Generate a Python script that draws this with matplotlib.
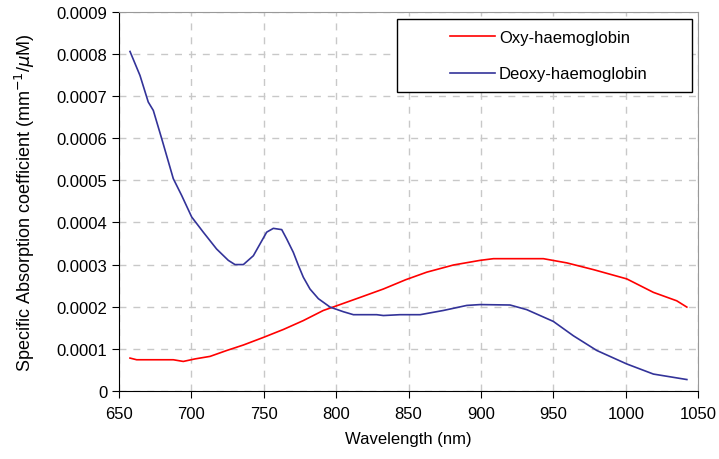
import matplotlib.pyplot as plt
import matplotlib
from matplotlib.patches import Rectangle

matplotlib.rcParams['font.family'] = ['Liberation Sans', 'DejaVu Sans']

# wavelengths (nm) and coefficients (x 1e-4)
deoxy_wl = [657.6, 664.5, 670.2, 673.7, 679.5, 687.5, 693.3, 700.2, 708.2, 717.4,
            725.5, 730.1, 735.9, 742.8, 747.4, 752.0, 756.6, 762.4, 765.8, 770.4,
            773.9, 777.3, 781.9, 787.7, 795.8, 805.0, 811.9, 828.0, 832.6, 844.0,
            858.0, 874.0, 890.2, 899.4, 920.1, 931.6, 950.0, 963.8, 980.0, 1000.7,
            1019.1, 1042.2]
deoxy = [8.06, 7.49, 6.86, 6.66, 5.99, 5.04, 4.64, 4.13, 3.77, 3.37,
         3.10, 3.00, 3.00, 3.21, 3.49, 3.77, 3.86, 3.83, 3.61, 3.29,
         2.98, 2.70, 2.42, 2.19, 1.99, 1.88, 1.81, 1.81, 1.79, 1.81,
         1.81, 1.91, 2.03, 2.05, 2.04, 1.93, 1.65, 1.31, 0.96, 0.64,
         0.40, 0.27]

oxy_wl = [657.6, 662.2, 687.5, 694.4, 702.5, 712.9, 724.4, 735.9, 749.7, 763.6,
          777.3, 791.1, 799.4, 816.5, 832.6, 848.0, 862.6, 881.0, 899.4, 908.6,
          943.1, 959.3, 977.7, 1000.7, 1019.1, 1035.2, 1042.2]
oxy = [0.78, 0.74, 0.74, 0.70, 0.76, 0.82, 0.96, 1.09, 1.27, 1.46,
       1.67, 1.91, 2.01, 2.22, 2.42, 2.64, 2.82, 2.99, 3.10, 3.14,
       3.14, 3.04, 2.88, 2.66, 2.34, 2.14, 1.99]

xticks = [650, 700, 750, 800, 850, 900, 950, 1000, 1050]
yticks = [0, 0.0001, 0.0002, 0.0003, 0.0004, 0.0005, 0.0006, 0.0007, 0.0008, 0.0009]
ytick_labels = ['0', '0.0001', '0.0002', '0.0003', '0.0004', '0.0005',
                '0.0006', '0.0007', '0.0008', '0.0009']

fig = plt.figure(figsize=(7.19, 4.60), dpi=100)
ax = fig.add_axes([0.1655, 0.148, 0.8055, 0.824])

ax.plot(oxy_wl, [v * 1e-4 for v in oxy], color='#ff0000', lw=1.2, label='Oxy-haemoglobin')
ax.plot(deoxy_wl, [v * 1e-4 for v in deoxy], color='#333399', lw=1.2, label='Deoxy-haemoglobin')

ax.set_xlim(650, 1050)
ax.set_ylim(0, 0.0009)
ax.set_xticks(xticks)
ax.set_yticks(yticks)
ax.set_yticklabels(ytick_labels)
ax.tick_params(labelsize=12, length=5, color='black')
ax.tick_params(axis='x', pad=6)

ax.grid(True, color='#c8c8c8', linestyle=(0, (5, 5)), lw=1)
for s in ['top', 'right']:
    ax.spines[s].set_color('#999999')
for s in ['left', 'bottom']:
    ax.spines[s].set_color('black')

ax.set_xlabel('Wavelength (nm)', fontsize=12, labelpad=7)
ax.set_ylabel('Specific Absorption coefficient (mm$^{-1}$/$\\mu$M)', fontsize=13, labelpad=14)

# legend box (Excel style) plus frameless legend inside it
ax.add_patch(Rectangle((0.48, 0.789), 0.51, 0.193, transform=ax.transAxes,
                       facecolor='white', edgecolor='black', lw=1, zorder=4))
leg = ax.legend(loc='upper left', bbox_to_anchor=(0.558, 0.975), frameon=False,
                fontsize=12, borderpad=0, handlelength=2.65, handletextpad=0.25,
                labelspacing=1.3)
leg.set_zorder(5)

plt.savefig('out.png', dpi=100)
